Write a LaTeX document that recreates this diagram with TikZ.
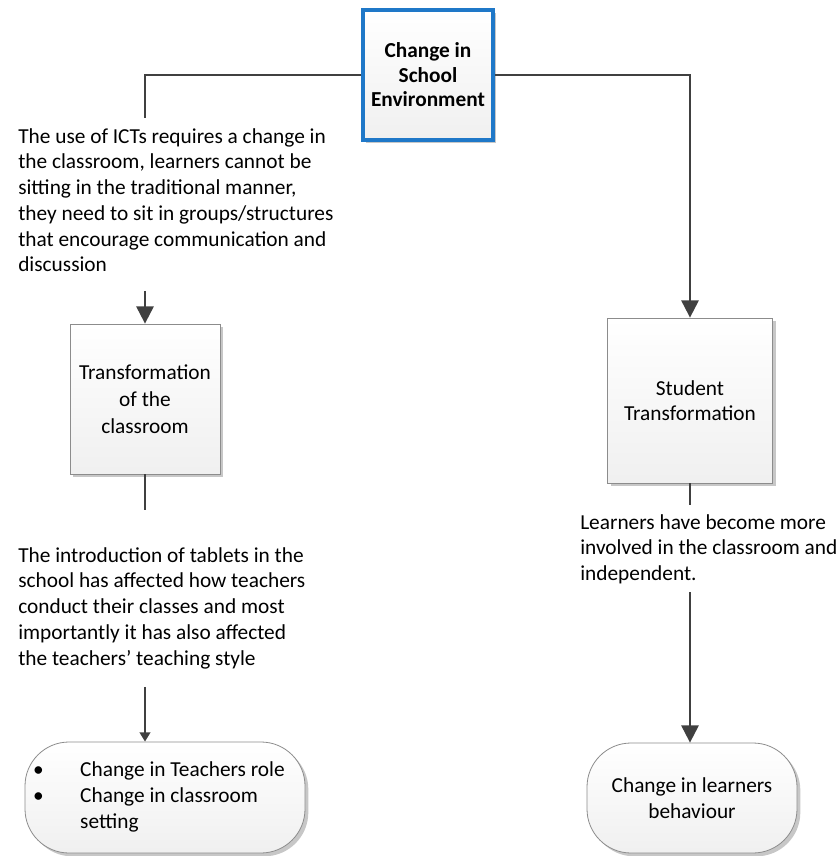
\documentclass[tikz,border=0pt]{standalone}
\usepackage{fontspec}
\setmainfont{Carlito}
\usetikzlibrary{arrows.meta,shadows}

\definecolor{linegray}{HTML}{404040}
\definecolor{boxgray}{HTML}{8C8C8C}
\definecolor{topblue}{HTML}{1F78C8}

\begin{document}
\begin{tikzpicture}[x=0.75pt,y=-0.75pt,
  font=\fontsize{16}{19.3}\selectfont,
  conn/.style={draw=linegray, line width=1.6pt},
  arrowc/.style={conn, -{Triangle[width=13pt,length=13pt]}},
  arrowsmall/.style={conn, -{Triangle[width=8pt,length=7pt]}},
  card/.style={draw=boxgray, line width=0.6pt, top color=white, bottom color=gray!12,
    drop shadow={shadow xshift=2.5pt, shadow yshift=-2.5pt, opacity=0.22, fill=black},
    align=center, inner sep=0pt},
  pill/.style={card, rounded corners=33pt},
  note/.style={align=left, inner sep=0pt, anchor=north west}
]
\useasboundingbox (0,0) rectangle (838,856);

% main boxes
\node[card, draw=topblue, line width=2.4pt, minimum width=97.5pt, minimum height=97.5pt,
      font=\bfseries\fontsize{16}{18.4}\selectfont] (top) at (428,75)
      {Change in\\School\\Environment};
\node[card, minimum width=112.5pt, minimum height=112.5pt,
      font=\fontsize{16}{20.3}\selectfont] (box1) at (145,399)
      {Transformation\\of the\\classroom};
\node[card, minimum width=123.75pt, minimum height=123.75pt,
      font=\fontsize{16}{18.75}\selectfont] (box2) at (690,400.5)
      {Student\\Transformation};

% outcome boxes
\node[pill, minimum width=210pt, minimum height=83.25pt] (end1) at (165,797.5)
  {\begin{tabular}{@{}p{35.25pt}@{}l@{\hspace{9pt}}}
   \textbullet & Change in Teachers role\\
   \textbullet & Change in classroom\\
               & setting
   \end{tabular}};
\node[pill, minimum width=157.5pt, minimum height=82.5pt] (end2) at (692,798)
  {Change in learners\\behaviour};

% explanatory notes
\node[note] (note1) at (18,128)
  {The use of ICTs requires a change in\\
   the classroom, learners cannot be\\
   sitting in the traditional manner,\\
   they need to sit in groups/structures\\
   that encourage communication and\\
   discussion};
\node[note] (note2) at (18,547)
  {The introduction of tablets in the\\
   school has affected how teachers\\
   conduct their classes and most\\
   importantly it has also affected\\
   the teachers’ teaching style};
\node[note] (note3) at (580,514)
  {Learners have become more\\
   involved in the classroom and\\
   independent.};

% connectors, left branch
\draw[conn, shorten >=7.5pt] (top.west) -| (box1.north |- note1.north);
\draw[arrowc, shorten <=14pt] (box1.north |- note1.south) -- (box1.north);
\draw[conn, shorten >=27.75pt] (box1.south) -- (box1.south |- note2.north);
\draw[arrowsmall, shorten <=13.5pt] (box1.south |- note2.south) -- (box1.south |- end1.north);

% connectors, right branch
\draw[arrowc] (top.east) -| (box2.north);
\draw[conn, shorten >=6.75pt] (box2.south) -- (box2.south |- note3.north);
\draw[arrowc, shorten <=6pt] (box2.south |- note3.south) -- (box2.south |- end2.north);
\end{tikzpicture}
\end{document}
